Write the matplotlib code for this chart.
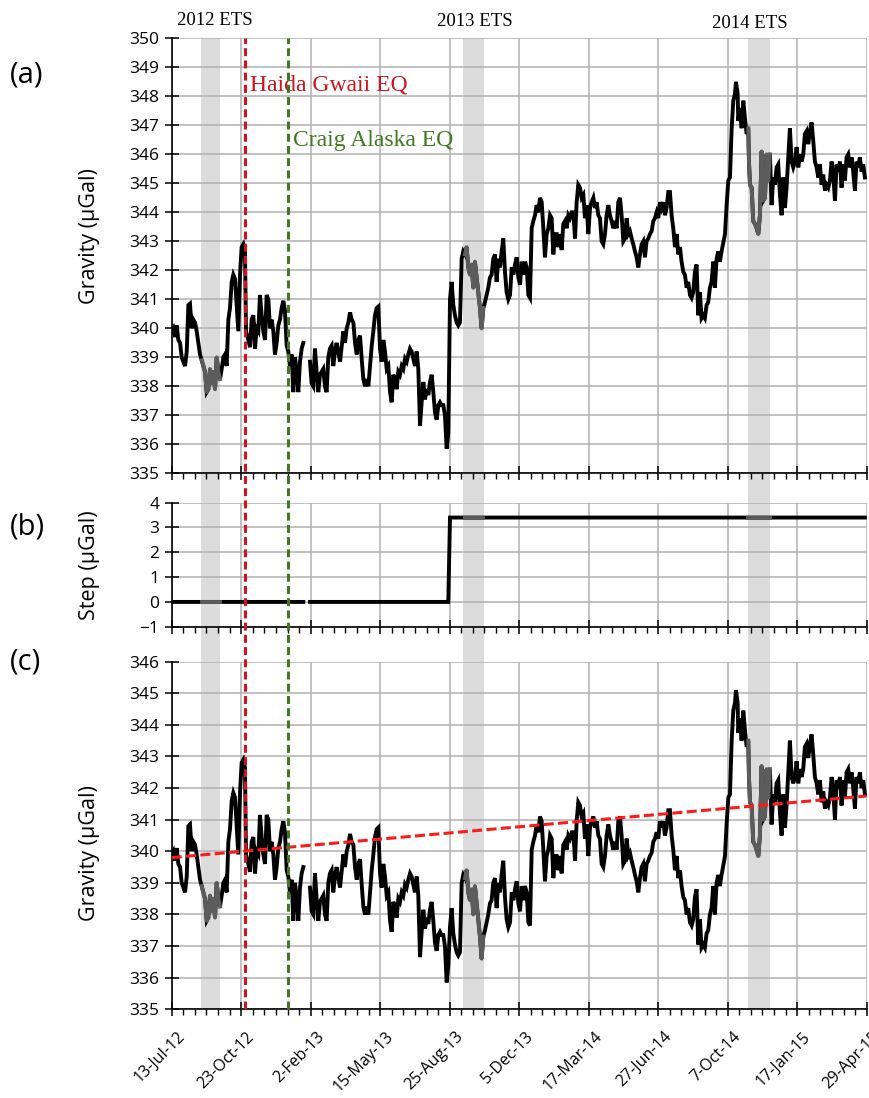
import numpy as np
import pandas as pd
import matplotlib
matplotlib.use('Agg')
import matplotlib.pyplot as plt
import matplotlib.dates as mdates
from matplotlib.transforms import blended_transform_factory, ScaledTranslation
from matplotlib.patches import Rectangle
from matplotlib.lines import Line2D

start = pd.Timestamp('2012-07-13')
end = pd.Timestamp('2015-04-29')

# days since 13-Jul-12 and gravity residual (uGal); NaN marks the data gap
days = [
    0.0, 2.4, 4.8, 7.3, 9.7, 12.2, 14.6, 19.5, 22.0, 24.4, 26.8, 29.3, 31.7, 34.2,
    36.6, 39.1, 41.5, 44.0, 46.4, 48.8, 51.3, 53.7, 56.2, 58.6, 61.1, 63.5, 66.0,
    68.4, 70.9, 73.3, 75.7, 78.2, 80.6, 83.1, 85.5, 88.0, 90.4, 92.9, 95.3, 97.7,
    100.2, 102.6, 105.1, 107.5, 109.0, 112.4, 114.9, 117.3, 119.8, 122.2, 124.6,
    127.1, 129.5, 132.0, 134.4, 136.9, 139.3, 141.8, 144.2, 146.6, 149.1, 151.5,
    154.0, 156.4, 158.9, 161.3, 163.8, 166.2, 168.7, 171.1, 173.5, 176.0, 178.4,
    180.9, 183.3, 185.8, 188.2, 190.7, 193.1, 197.0, 202.9, 205.3, 207.8, 210.2,
    212.7, 215.1, 217.6, 220.0, 222.4, 224.9, 227.3, 229.8, 232.2, 234.7, 237.1,
    239.6, 242.0, 247.0, 251.9, 254.3, 256.8, 259.2, 261.7, 264.1, 266.6, 269.0,
    271.5, 273.9, 276.3, 278.8, 281.2, 283.7, 286.1, 288.6, 291.0, 293.5, 295.9,
    298.3, 300.8, 303.2, 305.7, 308.1, 310.6, 313.0, 315.5, 317.9, 320.4, 322.8,
    325.2, 327.7, 330.1, 332.6, 335.0, 337.5, 339.9, 342.4, 344.8, 347.2, 349.7,
    352.1, 354.6, 357.0, 359.5, 361.9, 364.4, 366.8, 369.3, 371.7, 374.1, 376.6,
    379.0, 381.5, 383.9, 386.4, 388.8, 391.3, 393.7, 396.1, 398.6, 401.0, 403.5,
    405.9, 408.4, 410.8, 413.3, 415.7, 418.2, 420.6, 423.0, 425.5, 427.9, 430.4,
    432.8, 435.3, 437.7, 440.2, 442.6, 445.0, 447.5, 449.9, 452.4, 454.8, 457.3,
    459.7, 462.2, 464.6, 467.0, 469.5, 471.9, 474.4, 476.8, 479.3, 481.7, 484.2,
    486.6, 489.1, 491.5, 494.0, 496.5, 499.0, 501.4, 503.8, 506.3, 508.7, 511.2,
    513.6, 516.1, 518.5, 521.0, 523.4, 525.8, 528.3, 530.7, 533.2, 535.6, 538.1,
    540.5, 543.0, 545.4, 547.8, 550.3, 552.7, 555.2, 557.6, 560.1, 562.5, 565.0,
    567.4, 569.9, 572.3, 574.7, 577.2, 579.6, 582.1, 584.5, 587.0, 589.4, 591.9,
    594.3, 596.7, 599.2, 601.6, 604.1, 606.5, 609.0, 611.4, 613.9, 616.3, 618.8,
    621.2, 623.6, 626.1, 628.5, 631.0, 633.4, 635.9, 638.3, 640.8, 643.2, 645.6,
    648.1, 650.5, 653.0, 655.4, 657.9, 660.3, 662.8, 665.2, 667.7, 670.1, 672.5,
    675.0, 677.4, 679.9, 682.3, 684.8, 687.2, 689.7, 692.1, 694.5, 697.0, 699.4,
    701.9, 704.3, 706.8, 709.2, 711.7, 714.1, 716.6, 719.0, 721.4, 723.9, 726.3,
    728.8, 731.2, 733.7, 736.1, 738.6, 741.0, 743.4, 745.9, 748.3, 750.8, 753.2,
    755.7, 758.1, 760.6, 763.0, 765.4, 767.9, 770.3, 772.8, 775.2, 777.6, 780.1,
    782.5, 785.0, 787.4, 789.9, 792.3, 794.8, 797.2, 799.7, 802.1, 804.5, 807.0,
    812.0, 814.4, 816.9, 819.3, 821.8, 824.2, 826.7, 828.1, 830.6, 831.5, 834.0,
    836.4, 838.9, 841.3, 843.8, 846.2, 847.2, 848.7, 851.1, 853.5, 856.0, 858.4,
    860.9, 863.3, 865.8, 868.2, 870.7, 873.1, 875.6, 878.0, 880.4, 882.9, 885.3,
    887.8, 890.2, 892.7, 895.1, 897.6, 900.0, 902.4, 904.9, 907.3, 909.8, 912.2,
    914.7, 917.1, 919.6, 922.0, 924.5, 926.9, 929.3, 931.8, 934.2, 936.7, 939.1,
    941.6, 944.0, 946.5, 948.9, 951.3, 953.8, 956.2, 958.7, 961.1, 963.6, 966.0,
    968.5, 970.9, 973.4, 975.8, 978.2, 980.7, 983.1, 985.6, 988.0, 990.5, 992.9,
    995.4, 997.8, 1000.2, 1002.7, 1005.1, 1007.6, 1010.0, 1012.5, 1014.9, 1017.4,
]
gravity = [
    339.9, 340.0, 339.7, 340.1, 339.6, 339.5, 339.0, 338.7, 339.2, 340.8, 340.85, 340.0, 340.3, 340.2,
    339.9, 339.5, 339.1, 338.9, 338.7, 338.5, 337.8, 337.9, 338.6, 338.1, 338.5, 337.9, 339.0,
    338.5, 338.25, 338.6, 339.0, 339.1, 338.7, 340.3, 340.7, 341.6, 341.85, 341.7, 340.8, 339.9,
    341.85, 342.8, 342.9, 342.65, 339.9, 339.6, 339.35, 340.3, 340.45, 339.3, 340.0,
    339.9, 341.15, 340.45, 339.9, 339.6, 341.15, 341.0, 340.0, 340.3, 339.9, 339.1,
    339.5, 340.1, 340.3, 340.7, 340.95, 340.6, 339.4, 339.2, 338.7, 339.1, 337.8,
    339.0, 338.5, 337.8, 338.85, 339.3, 339.5, np.nan, 338.85, 338.1, 338.0, 339.3,
    338.5, 337.8, 338.4, 338.5, 338.6, 338.0, 337.8, 339.0, 339.3, 339.4, 338.7,
    339.2, 339.5, 338.85, 339.9, 339.5, 340.0, 340.2, 340.55, 340.3, 340.2, 339.5,
    339.1, 339.6, 339.75, 338.95, 338.25, 338.0, 338.25, 338.0, 338.7, 339.4, 339.9,
    340.45, 340.7, 340.75, 339.3, 338.85, 339.6, 339.2, 338.6, 338.7, 337.8, 337.45,
    338.4, 338.25, 337.9, 338.5, 338.4, 338.7, 338.6, 338.95, 338.85, 339.1, 339.3,
    339.2, 338.95, 338.7, 339.2, 338.6, 336.65, 337.45, 338.15, 337.55, 337.9, 337.7,
    338.15, 338.4, 337.8, 337.1, 336.85, 337.35, 337.45, 337.35, 337.35, 337.0, 335.85,
    336.4, 341.0, 341.6, 340.8, 340.45, 340.2, 340.1, 340.2, 342.4, 342.65, 342.55,
    342.8, 342.1, 341.85, 342.2, 341.4, 342.3, 341.75, 341.25, 340.7, 340.0, 340.7,
    340.9, 341.15, 341.4, 341.75, 341.85, 342.4, 342.55, 341.6, 342.4, 342.1, 342.65,
    343.1, 341.95, 341.25, 341.0, 341.15, 342.1, 341.85, 342.2, 342.45, 341.75, 341.5,
    342.3, 341.85, 342.3, 342.1, 341.15, 341.05, 343.45, 343.7, 343.9, 344.25, 344.0,
    344.5, 344.35, 343.45, 342.45, 343.25, 343.45, 343.9, 343.8, 342.55, 343.25, 343.25,
    342.8, 343.25, 342.7, 343.6, 343.7, 343.45, 343.9, 343.8, 344.0, 344.0, 343.1,
    344.35, 344.95, 344.85, 344.5, 344.6, 343.8, 344.25, 343.25, 344.15, 344.35, 344.5,
    344.15, 344.35, 343.9, 343.8, 343.0, 342.9, 343.25, 343.9, 344.25, 343.9, 343.7,
    343.45, 343.7, 343.45, 344.35, 344.5, 343.9, 343.0, 343.1, 343.8, 343.25, 343.35,
    343.1, 342.9, 342.65, 342.45, 342.1, 342.55, 342.9, 343.0, 342.45, 343.0, 343.1,
    343.25, 343.35, 343.7, 343.8, 344.0, 343.8, 344.35, 344.15, 344.35, 343.9, 344.15,
    344.7, 344.7, 343.9, 343.45, 342.8, 343.25, 342.55, 342.8, 342.3, 341.95, 341.85,
    341.4, 341.6, 341.15, 341.05, 341.25, 341.95, 342.2, 340.45, 341.25, 340.35, 340.45,
    340.35, 340.8, 340.9, 341.4, 341.6, 342.3, 341.4, 342.4, 342.65, 342.3, 342.65,
    343.25, 344.25, 345.1, 345.2, 346.9, 347.85, 348.1, 348.5, 348.1, 347.15, 347.6,
    346.9, 347.85, 347.25, 346.7, 346.9, 345.75, 344.95, 344.85, 343.7, 343.6, 343.45,
    343.25, 343.9, 346.1, 344.4, 344.5, 346.0, 345.1, 346.0, 344.25, 345.2, 344.95,
    345.55, 345.65, 344.6, 343.9, 345.2, 344.15, 344.85, 345.9, 346.9, 345.75, 345.55,
    345.75, 346.25, 345.55, 346.0, 345.75, 346.0, 346.7, 346.8, 346.35, 346.8, 347.1,
    346.45, 345.75, 345.55, 345.2, 345.65, 344.95, 345.3, 344.75, 344.95, 344.85, 345.1,
    345.75, 345.3, 344.4, 345.65, 345.4, 345.75, 344.85, 345.65, 345.1, 345.9, 346.0,
    345.55, 345.9, 345.4, 344.75, 345.75, 345.55, 345.9, 345.4, 345.65, 345.2,
]

# offset estimated at the Aug-2013 jump
step_date = pd.Timestamp('2013-08-25')
step_size = 3.4

# linear trend of the step-corrected series
trend_start, trend_end = 339.8, 341.75

# slow slip (ETS) windows
ets_periods = [('2012-08-25', '2012-09-22'), ('2013-09-14', '2013-10-14'), ('2014-11-06', '2014-12-08')]
ets_names = ['2012 ETS', '2013 ETS', '2014 ETS']

quakes = [('2012-10-28', 'Haida Gwaii EQ', '#d0141e'), ('2012-12-31', 'Craig Alaska EQ', '#3f7a22')]

dates = start + pd.to_timedelta(np.array(days), unit='D')
g = np.array(gravity)
step = np.where(dates < step_date, 0.0, step_size)
step[np.isnan(g)] = np.nan
corrected = g - step

plt.rcParams['font.family'] = ['Open Sans', 'DejaVu Sans']
serif = 'Liberation Serif'

fig = plt.figure(figsize=(8.7, 10.98), dpi=100)
ax_a = fig.add_axes([0.1974, 0.5689, 0.7988, 0.3962])
ax_b = fig.add_axes([0.1974, 0.4292, 0.7988, 0.1130])
ax_c = fig.add_axes([0.1974, 0.0808, 0.7988, 0.3166])

major = pd.date_range(start, periods=11, freq='102D')
minor = pd.date_range(start, end, freq='17D')

panels = [
    (ax_a, g, (335, 350), 'Gravity (µGal)', 0.545),
    (ax_b, step, (-1, 4), 'Step (µGal)', 0.5),
    (ax_c, corrected, (335, 346), 'Gravity (µGal)', 0.45),
]
for ax, series, (lo, hi), ylabel, ly in panels:
    ax.set_facecolor('none')
    ax.plot(dates, series, color='black', lw=2.8, solid_joinstyle='miter', zorder=3)
    for a, b in ets_periods:
        inside = (dates >= pd.Timestamp(a)) & (dates <= pd.Timestamp(b))
        ax.plot(dates[inside], series[inside], color='#5c5c5c', lw=2.8, zorder=4)
    ax.set_xlim(start, end)
    ax.set_ylim(lo, hi)
    ax.set_yticks(np.arange(lo, hi + 1, 1))
    ax.set_xticks(major)
    ax.set_xticks(minor, minor=True)
    ax.grid(True, which='major', color='#b0b0b0', lw=1.1)
    for s in ['top', 'right']:
        ax.spines[s].set_visible(False)
    for s in ['left', 'bottom']:
        ax.spines[s].set_linewidth(1.2)
    ax.tick_params(axis='both', which='major', direction='inout', length=10, width=1.1,
                   labelsize=12.5, pad=4)
    ax.tick_params(axis='x', which='minor', direction='out', length=4, width=1.0)
    ax.set_ylabel(ylabel, fontsize=15.5)
    ax.yaxis.set_label_coords(-0.103, ly)

ax_a.tick_params(axis='x', labelbottom=False)
ax_b.tick_params(axis='x', labelbottom=False)
ax_c.xaxis.set_major_formatter(mdates.DateFormatter('%-d-%b-%y'))
ax_c.tick_params(axis='x', which='major', pad=8)
shift = ScaledTranslation(0.11, -0.07, fig.dpi_scale_trans)
for lab in ax_c.get_xticklabels():
    lab.set_rotation(45)
    lab.set_ha('right')
    lab.set_va('center')
    lab.set_rotation_mode('anchor')
    lab.set_fontsize(11.5)
    lab.set_transform(lab.get_transform() + shift)

ax_c.plot([start, end], [trend_start, trend_end], color='#ff1a1a', lw=2.2,
          dashes=(3.3, 1.4), zorder=5)

# ETS bands and quake markers run through all three panels
top, bottom = 0.9651, 0.0808
trans = blended_transform_factory(ax_a.transData, fig.transFigure)
for a, b in ets_periods:
    x0, x1 = mdates.date2num(pd.Timestamp(a)), mdates.date2num(pd.Timestamp(b))
    fig.add_artist(Rectangle((x0, bottom), x1 - x0, top - bottom, transform=trans,
                             facecolor='#dcdcdc', edgecolor='none', zorder=-1))
for d, name, col in quakes:
    x = mdates.date2num(pd.Timestamp(d))
    fig.add_artist(Line2D([x, x], [bottom, top], transform=trans, color=col, lw=2.2,
                          dashes=(2.6, 1.4), zorder=6))

fig.text(0.2874, 0.918, 'Haida Gwaii EQ', color=quakes[0][2], fontsize=17, family=serif)
fig.text(0.3368, 0.867, 'Craig Alaska EQ', color=quakes[1][2], fontsize=17, family=serif)

for name, x, y in zip(ets_names, [0.2471, 0.5454, 0.862], [0.9813, 0.9802, 0.9786]):
    fig.text(x, y, name, ha='center', va='center', fontsize=13.5, family=serif)

for lab, y in zip(['(a)', '(b)', '(c)'], [0.9317, 0.52, 0.397]):
    fig.text(0.0115, y, lab, ha='left', va='center', fontsize=21)

fig.savefig('out.png', dpi=100)
